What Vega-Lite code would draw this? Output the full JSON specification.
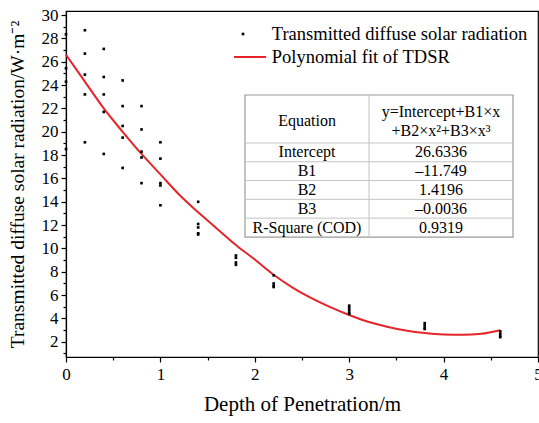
{
  "$schema": "https://vega.github.io/schema/vega-lite/v6.json",
  "width": 472,
  "height": 346,
  "autosize": {"type": "none"},
  "padding": {"left": 66, "top": 11, "right": 1, "bottom": 66},
  "background": "white",
  "config": {
    "view": {"stroke": "black", "strokeWidth": 1.2},
    "font": "Liberation Serif",
    "text": {"font": "Liberation Serif", "color": "black"}
  },
  "datasets": {
    "pts": [
      {"x": 0, "y": 28.35}, {"x": 0, "y": 25.44}, {"x": 0, "y": 24.29}, {"x": 0, "y": 18.52},
      {"x": 0.2, "y": 28.7}, {"x": 0.2, "y": 26.7}, {"x": 0.2, "y": 24.9}, {"x": 0.2, "y": 23.2}, {"x": 0.2, "y": 19.1},
      {"x": 0.4, "y": 27.1}, {"x": 0.4, "y": 24.7}, {"x": 0.4, "y": 23.2}, {"x": 0.4, "y": 21.7}, {"x": 0.4, "y": 18.1},
      {"x": 0.6, "y": 24.4}, {"x": 0.6, "y": 22.2}, {"x": 0.6, "y": 20.5}, {"x": 0.6, "y": 19.5}, {"x": 0.6, "y": 16.9},
      {"x": 0.8, "y": 22.2}, {"x": 0.8, "y": 20.2}, {"x": 0.8, "y": 18.3}, {"x": 0.8, "y": 17.8}, {"x": 0.8, "y": 15.6},
      {"x": 1.0, "y": 19.1}, {"x": 1.0, "y": 17.7}, {"x": 1.0, "y": 15.6}, {"x": 1.0, "y": 15.4}, {"x": 1.0, "y": 13.7},
      {"x": 1.4, "y": 14.0}, {"x": 1.4, "y": 12.1}, {"x": 1.4, "y": 11.8}, {"x": 1.4, "y": 11.3}, {"x": 1.4, "y": 11.2},
      {"x": 1.8, "y": 9.4}, {"x": 1.8, "y": 9.2}, {"x": 1.8, "y": 8.8}, {"x": 1.8, "y": 8.6},
      {"x": 2.2, "y": 7.7}, {"x": 2.2, "y": 7.0}, {"x": 2.2, "y": 6.8}, {"x": 2.2, "y": 6.7},
      {"x": 3.0, "y": 5.1}, {"x": 3.0, "y": 4.9}, {"x": 3.0, "y": 4.7}, {"x": 3.0, "y": 4.5}, {"x": 3.0, "y": 4.4},
      {"x": 3.8, "y": 3.6}, {"x": 3.8, "y": 3.4}, {"x": 3.8, "y": 3.2}, {"x": 3.8, "y": 3.1},
      {"x": 4.6, "y": 2.9}, {"x": 4.6, "y": 2.7}, {"x": 4.6, "y": 2.5}, {"x": 4.6, "y": 2.4}
    ],
    "fit": [
      {"x": 0, "y": 26.6}, {"x": 0.2, "y": 24.3}, {"x": 0.4, "y": 22.0}, {"x": 0.6, "y": 20.0},
      {"x": 0.8, "y": 18.1}, {"x": 1.0, "y": 16.35}, {"x": 1.2, "y": 14.6}, {"x": 1.4, "y": 13.1},
      {"x": 1.6, "y": 11.7}, {"x": 1.8, "y": 10.3}, {"x": 2.0, "y": 9.05}, {"x": 2.2, "y": 7.75},
      {"x": 2.4, "y": 6.65}, {"x": 2.6, "y": 5.75}, {"x": 2.8, "y": 4.98}, {"x": 3.0, "y": 4.3},
      {"x": 3.2, "y": 3.72}, {"x": 3.4, "y": 3.3}, {"x": 3.6, "y": 2.97}, {"x": 3.8, "y": 2.75},
      {"x": 4.0, "y": 2.63}, {"x": 4.2, "y": 2.6}, {"x": 4.4, "y": 2.69}, {"x": 4.6, "y": 3.0}
    ],
    "tbox": [{"x": 1.896, "x2": 4.735, "y": 23.15, "y2": 10.98}],
    "tlines": [
      {"x": 1.896, "x2": 4.735, "y": 19.04, "y2": 19.04},
      {"x": 1.896, "x2": 4.735, "y": 17.43, "y2": 17.43},
      {"x": 1.896, "x2": 4.735, "y": 15.82, "y2": 15.82},
      {"x": 1.896, "x2": 4.735, "y": 14.21, "y2": 14.21},
      {"x": 1.896, "x2": 4.735, "y": 12.60, "y2": 12.60},
      {"x": 3.21, "x2": 3.21, "y": 23.15, "y2": 10.98}
    ],
    "ttext": [
      {"x": 2.553, "y": 20.92, "text": "Equation"},
      {"x": 3.972, "y": 21.72, "text": "y=Intercept+B1×x"},
      {"x": 3.972, "y": 20.1, "text": "+B2×x²+B3×x³"},
      {"x": 2.553, "y": 18.23, "text": "Intercept"},
      {"x": 3.972, "y": 18.23, "text": "26.6336"},
      {"x": 2.553, "y": 16.62, "text": "B1"},
      {"x": 3.972, "y": 16.62, "text": "–11.749"},
      {"x": 2.553, "y": 15.01, "text": "B2"},
      {"x": 3.972, "y": 15.01, "text": "1.4196"},
      {"x": 2.553, "y": 13.40, "text": "B3"},
      {"x": 3.972, "y": 13.40, "text": "–0.0036"},
      {"x": 2.553, "y": 11.79, "text": "R-Square (COD)"},
      {"x": 3.972, "y": 11.79, "text": "0.9319"}
    ],
    "legpt": [{"x": 1.875, "y": 28.38}],
    "legline": [{"x": 1.78, "x2": 2.12, "y": 26.41}],
    "legtext": [
      {"x": 2.18, "y": 28.38, "text": "Transmitted diffuse solar radiation"},
      {"x": 2.18, "y": 26.41, "text": "Polynomial fit of TDSR"}
    ]
  },
  "encoding": {
    "x": {
      "field": "x", "type": "quantitative",
      "scale": {"domain": [0, 5], "nice": false, "zero": false},
      "axis": {
        "title": "Depth of Penetration/m",
        "values": [0, 0.5, 1, 1.5, 2, 2.5, 3, 3.5, 4, 4.5, 5],
        "labelExpr": "datum.value % 1 === 0 ? format(datum.value, 'd') : ''",
        "tickSize": {"condition": {"test": "datum.value % 1 === 0", "value": 5}, "value": 3},
        "grid": false, "labelFlush": false, "labelOverlap": false,
        "domainColor": "black", "domainWidth": 1.2, "tickColor": "black", "tickWidth": 1.2,
        "labelFont": "Liberation Serif", "labelFontSize": 17, "labelColor": "black", "labelPadding": 4,
        "titleFont": "Liberation Serif", "titleFontSize": 21, "titleFontWeight": "normal", "titleColor": "black", "titlePadding": 11
      }
    },
    "y": {
      "field": "y", "type": "quantitative",
      "scale": {"domain": [0.7, 30.35], "nice": false, "zero": false},
      "axis": {
        "title": "Transmitted diffuse solar radiation/W·m⁻²",
        "values": [1, 2, 3, 4, 5, 6, 7, 8, 9, 10, 11, 12, 13, 14, 15, 16, 17, 18, 19, 20, 21, 22, 23, 24, 25, 26, 27, 28, 29, 30],
        "labelExpr": "datum.value % 2 === 0 ? datum.label : ''",
        "tickSize": {"condition": {"test": "datum.value % 2 === 0", "value": 5}, "value": 3},
        "grid": false, "labelOverlap": false, "labelFlush": false,
        "domainColor": "black", "domainWidth": 1.2, "tickColor": "black", "tickWidth": 1.2,
        "labelFont": "Liberation Serif", "labelFontSize": 17, "labelColor": "black", "labelPadding": 3,
        "titleFont": "Liberation Serif", "titleFontSize": 19.5, "titleFontWeight": "normal", "titleColor": "black", "titlePadding": 14
      }
    }
  },
  "layer": [
    {
      "data": {"name": "tbox"},
      "mark": {"type": "rect", "fill": "white", "stroke": "#9a9a9a", "strokeWidth": 1.2},
      "encoding": {"x2": {"field": "x2"}, "y2": {"field": "y2"}}
    },
    {
      "data": {"name": "tlines"},
      "mark": {"type": "rule", "stroke": "#c4c4c4", "strokeWidth": 1},
      "encoding": {"x2": {"field": "x2"}, "y2": {"field": "y2"}}
    },
    {
      "data": {"name": "ttext"},
      "mark": {"type": "text", "fontSize": 16, "align": "center", "baseline": "middle", "font": "Liberation Serif"},
      "encoding": {"text": {"field": "text"}}
    },
    {
      "data": {"name": "fit"},
      "mark": {"type": "line", "color": "#e5242b", "strokeWidth": 2, "interpolate": "monotone"},
      "encoding": {}
    },
    {
      "data": {"name": "pts"},
      "mark": {"type": "point", "shape": "square", "filled": true, "color": "black", "size": 7, "opacity": 1},
      "encoding": {}
    },
    {
      "data": {"name": "legpt"},
      "mark": {"type": "point", "shape": "square", "filled": true, "color": "black", "size": 7, "opacity": 1},
      "encoding": {}
    },
    {
      "data": {"name": "legline"},
      "mark": {"type": "rule", "color": "#e5242b", "strokeWidth": 2},
      "encoding": {"x2": {"field": "x2"}}
    },
    {
      "data": {"name": "legtext"},
      "mark": {"type": "text", "fontSize": 18.5, "align": "left", "baseline": "middle", "font": "Liberation Serif"},
      "encoding": {"text": {"field": "text"}}
    }
  ]
}
